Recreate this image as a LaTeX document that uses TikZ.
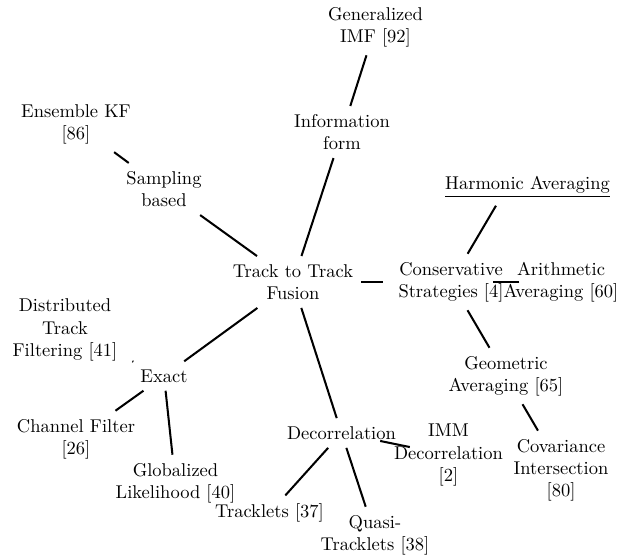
\documentclass[tikz,border=0pt]{standalone}
\tikzset{
  concept/.style={text width=66.8pt, align=center, inner xsep=3.333pt, inner ysep=4.3pt, font=\normalsize},
  link/.style={line width=1.1pt}
}
\begin{document}
\begin{tikzpicture}[x=0.5405pt,y=-0.5405pt]
\useasboundingbox (0,0) rectangle (619,559);
\node[concept] (T) at (293,282) {Track to Track\\Fusion};
\node[concept] (Info) at (342,132) {Information\\form};
\node[concept] (Gen) at (375.5,27) {Generalized\\IMF [92]};
\node[concept] (Samp) at (164,189) {Sampling\\based};
\node[concept] (Ens) at (76,124) {Ensemble KF\\{}[86]};
\node[concept] (Cons) at (451,282) {Conservative\\Strategies [4]};
\node[concept] (Harm) at (507,187) {\underline{Harmonic Averaging}};
\node[concept] (Arith) at (561,282) {Arithmetic\\Averaging [60]};
\node[concept] (Geo) at (506,376) {Geometric\\Averaging [65]};
\node[concept] (Cov) at (561,470) {Covariance\\Intersection\\{}[80]};
\node[concept] (Exact) at (164,376) {Exact};
\node[concept] (Dist) at (65,330) {Distributed\\Track\\Filtering [41]};
\node[concept] (Chan) at (76,439) {Channel Filter\\{}[26]};
\node[concept] (Glob) at (175.5,483) {Globalized\\Likelihood [40]};
\node[concept] (Decor) at (341.5,433) {Decorrelation};
\node[concept] (IMM) at (448.5,455) {IMM\\Decorrelation\\{}[2]};
\node[concept] (Trk) at (269.5,513) {Tracklets [37]};
\node[concept] (Quasi) at (375,535) {Quasi-\\Tracklets [38]};
\draw[link] (T) -- (Info);
\draw[link] (Info) -- (Gen);
\draw[link] (T) -- (Samp);
\draw[link] (Samp) -- (Ens);
\draw[link] (T) -- (Cons);
\draw[link] (Cons) -- (Harm);
\draw[link] (Cons) -- (Arith);
\draw[link] (Cons) -- (Geo);
\draw[link] (Geo) -- (Cov);
\draw[link] (T) -- (Exact);
\draw[link] (Exact) -- (Dist);
\draw[link] (Exact) -- (Chan);
\draw[link] (Exact) -- (Glob);
\draw[link] (T) -- (Decor);
\draw[link] (Decor) -- (IMM);
\draw[link] (Decor) -- (Trk);
\draw[link] (Decor) -- (Quasi);
\end{tikzpicture}
\end{document}
